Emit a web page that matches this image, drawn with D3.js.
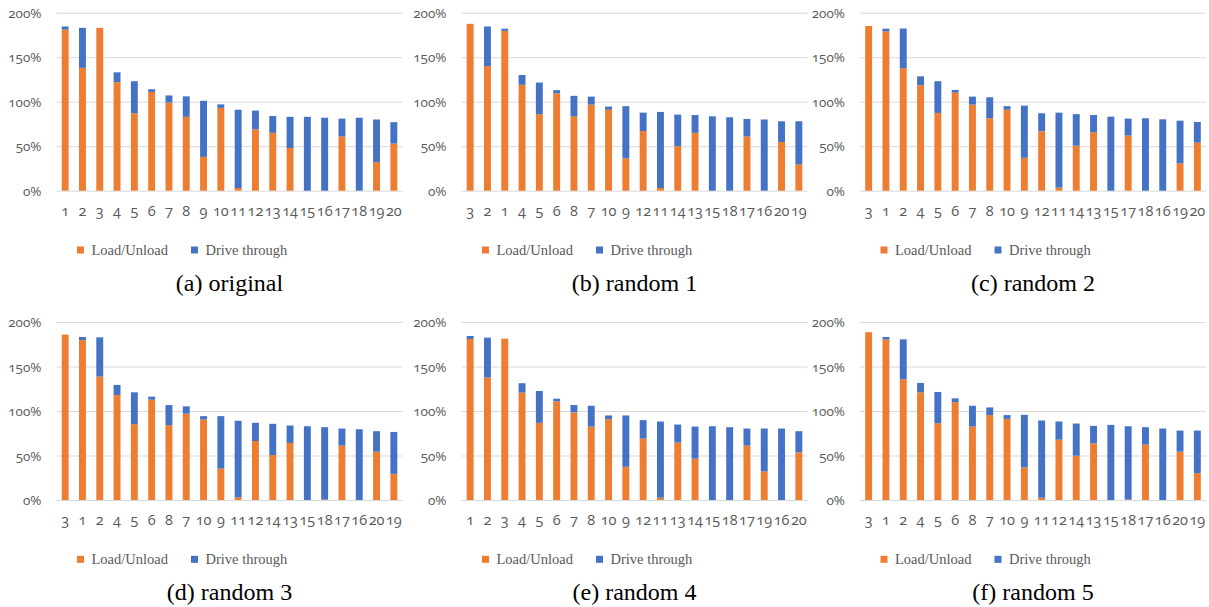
<!DOCTYPE html>
<html>
<head>
<meta charset="utf-8">
<script src="https://cdn.jsdelivr.net/npm/d3@7"></script>
<style>
  body { margin: 0; background: #fff; }
  svg { display: block; }
  .tick-label { font-family: "Open Sans", "Lato", sans-serif; font-feature-settings: "onum"; font-variant-numeric: oldstyle-nums; fill: #595959; }
  .serif { font-family: "Liberation Serif", "Times New Roman", serif; }
</style>
</head>
<body>
<svg width="1209" height="607"></svg>
<script>
// values, in percent
const seriesNames = ["Load/Unload", "Drive through"];
const panelTitles = ["(a) original", "(b) random 1", "(c) random 2", "(d) random 3", "(e) random 4", "(f) random 5"];
const yTicks = [0, 50, 100, 150, 200];

const orderA = [1, 2, 3, 4, 5, 6, 7, 8, 9, 10, 11, 12, 13, 14, 15, 16, 17, 18, 19, 20];
const loadA = [181, 138, 183, 122, 87, 111, 99, 83, 38, 93, 3, 69, 65, 48, 0, 0, 61, 0, 32, 53];
const driveA = [3.5, 45, 0, 11, 36, 3, 8, 23, 63, 4, 88, 21, 19, 35, 83, 82, 20, 82, 48, 24];

const orderB = [3, 2, 1, 4, 5, 6, 8, 7, 10, 9, 12, 11, 14, 13, 15, 18, 17, 16, 20, 19];
const loadB = [187.5, 140, 179.6, 119, 86, 109.5, 83.6, 96.7, 91, 36.4, 67, 3, 50, 65, 0, 0, 61, 0, 54.7, 29.6];
const driveB = [0, 44.5, 2.4, 11, 35.5, 3.5, 23, 9, 3.5, 58.6, 20.7, 85.5, 35.5, 20, 83.6, 82.5, 19.6, 80, 23.3, 48.4];

const orderC = [3, 1, 2, 4, 5, 6, 7, 8, 10, 9, 12, 11, 14, 13, 15, 17, 18, 16, 19, 20];
const loadC = [185, 179, 137.6, 118.5, 87.4, 110.2, 96.7, 81.4, 91, 37, 66.7, 3.4, 50.6, 65.6, 0, 62, 0, 0, 30.7, 54];
const driveC = [0, 3, 44.6, 10, 35.6, 3, 9, 23.6, 4, 58.6, 20.3, 84.3, 35.4, 19.4, 83.2, 19, 81.4, 80.2, 48, 23.2];

const orderD = [3, 1, 2, 4, 5, 6, 8, 7, 10, 9, 11, 12, 14, 13, 15, 18, 17, 16, 20, 19];
const loadD = [185.8, 179.8, 138.7, 118, 85.2, 112.7, 84.1, 96.9, 90.5, 35.4, 3, 66.3, 50.5, 64.1, 0, 0.5, 61.1, 0, 54.3, 29.4];
const driveD = [0, 3.4, 44.1, 11.3, 35.8, 3.4, 22.6, 8.3, 3.7, 58.8, 86, 20.4, 35.1, 19.6, 82.9, 81.3, 19.2, 79.5, 23, 47.1];

const orderE = [1, 2, 3, 4, 5, 6, 7, 8, 10, 9, 12, 11, 13, 14, 15, 18, 17, 19, 16, 20];
const loadE = [180.9, 137.6, 181.3, 120.6, 86.7, 110.8, 98.4, 82.5, 90.8, 37.3, 69, 2.6, 64.5, 46.4, 0, 0, 61.1, 32, 0, 53.5];
const driveE = [3.4, 44.8, 0, 10.6, 35.8, 3, 8.3, 23.4, 4.2, 57.7, 20.7, 85.6, 20.3, 36.1, 82.9, 81.8, 19.2, 48.3, 80.3, 23.8];

const orderF = [3, 1, 2, 4, 5, 6, 8, 7, 10, 9, 11, 12, 14, 13, 15, 18, 17, 16, 20, 19];
const loadF = [188.5, 180.2, 135.7, 121, 86.3, 110, 82.5, 95.4, 91.2, 36.6, 2.6, 67.8, 49.8, 63.7, 0, 0.5, 62.2, 0, 54.3, 30.2];
const driveF = [0, 3, 44.8, 10.5, 35.1, 4.2, 23.4, 8.6, 4.2, 59.1, 86.7, 20.4, 36.1, 19.6, 84.4, 82.4, 19.6, 80.3, 23.7, 47.8];

const layout = {
  colX: [56.5, 461.5, 860],
  rowY: [0, 309.3],
  plotW: 346,
  yTop: 12.7,
  yBottom: 190.7,
  colors: ["#ED7D31", "#4472C4"],
  grid: "#D9D9D9"
};

const panels = [
  [orderA, loadA, driveA],
  [orderB, loadB, driveB],
  [orderC, loadC, driveC],
  [orderD, loadD, driveD],
  [orderE, loadE, driveE],
  [orderF, loadF, driveF]
].map(([order, load, drive], i) => ({
  title: panelTitles[i],
  rows: order.map((id, j) => ({ id: String(id), load: load[j], drive: drive[j] }))
}));

const svg = d3.select("svg");
svg.append("rect").attr("width", 1209).attr("height", 607).attr("fill", "#fff");

const stack = d3.stack().keys(["load", "drive"]);

panels.forEach((panel, i) => {
  const x0 = layout.colX[i % 3];
  const dy = layout.rowY[Math.floor(i / 3)];
  const g = svg.append("g").attr("transform", `translate(0, ${dy})`);

  const x = d3.scaleBand()
    .domain(panel.rows.map(d => d.id))
    .range([x0, x0 + layout.plotW])
    .paddingInner(0.6)
    .paddingOuter(0.3);
  const y = d3.scaleLinear().domain([0, 200]).range([layout.yBottom, layout.yTop]);

  // gridlines + y labels
  const yAxis = g.append("g")
    .attr("transform", `translate(${x0}, 0)`)
    .call(d3.axisLeft(y).tickValues(yTicks).tickSize(-layout.plotW).tickFormat(d => d + "%"));
  yAxis.select(".domain").remove();
  yAxis.selectAll(".tick line").attr("stroke", layout.grid).attr("stroke-width", 1);
  yAxis.selectAll(".tick text")
    .attr("class", "tick-label")
    .attr("x", -15)
    .attr("font-size", 13.5)
    .attr("dy", "0.35em");

  // bars
  g.append("g").selectAll("g")
    .data(stack(panel.rows))
    .join("g")
    .attr("fill", (d, k) => layout.colors[k])
    .selectAll("rect")
    .data(d => d)
    .join("rect")
    .attr("x", d => x(d.data.id))
    .attr("width", x.bandwidth())
    .attr("y", d => y(d[1]))
    .attr("height", d => y(d[0]) - y(d[1]));

  // x labels
  const xAxis = g.append("g")
    .attr("transform", `translate(0, ${layout.yBottom})`)
    .call(d3.axisBottom(x).tickSize(0).tickPadding(0));
  xAxis.select(".domain").remove();
  xAxis.selectAll(".tick text")
    .attr("class", "tick-label")
    .attr("font-size", 14.5)
    .attr("y", 25)
    .attr("dy", 0);

  // legend
  const legend = g.append("g").attr("transform", `translate(${x0 + 20.5}, 250)`);
  seriesNames.forEach((name, k) => {
    const item = legend.append("g").attr("transform", `translate(${k * 114}, 0)`);
    item.append("rect").attr("x", 0).attr("y", -3.5).attr("width", 7).attr("height", 7).attr("fill", layout.colors[k]);
    item.append("text")
      .attr("class", "serif")
      .attr("x", 14.5)
      .attr("y", 5)
      .attr("font-size", 14.5)
      .attr("fill", "#595959")
      .text(name);
  });

  // caption
  g.append("text")
    .attr("class", "serif")
    .attr("x", x0 + layout.plotW / 2)
    .attr("y", 291)
    .attr("text-anchor", "middle")
    .attr("font-size", 24)
    .attr("fill", "#000")
    .text(panel.title);
});
</script>
</body>
</html>
